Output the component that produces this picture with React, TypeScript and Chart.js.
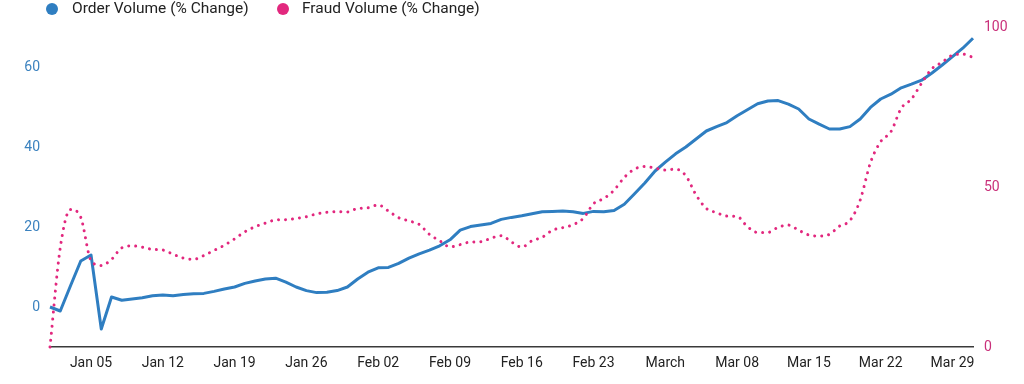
import React, { useEffect, useRef } from "react";
import { Chart, registerables } from "chart.js";

Chart.register(...registerables);

// Daily categories, Jan 01 – Mar 31 (2024)
const monthNames = ["Jan", "Feb", "Mar"];
const monthLengths = [31, 29, 31];
const categories: string[] = [];
monthNames.forEach((m, mi) => {
  for (let d = 1; d <= monthLengths[mi]; d++) {
    categories.push(`${m} ${String(d).padStart(2, "0")}`);
  }
});

// Tick labels shown on the x axis (every 7 days, starting Jan 05)
const xTickLabels = [
  "Jan 05", "Jan 12", "Jan 19", "Jan 26", "Feb 02", "Feb 09", "Feb 16",
  "Feb 23", "March", "Mar 08", "Mar 15", "Mar 22", "Mar 29",
];
const xTickStart = 4;
const xTickStep = 7;

const leftTicks = [0, 20, 40, 60];
const rightTicks = [0, 50, 100];

const orderVolume = [
  0, -1, 5.3, 11.5, 13, -5.5, 2.5, 1.7, 2.0, 2.3,
  2.8, 3.0, 2.8, 3.1, 3.3, 3.4, 3.9, 4.5, 5.0, 5.9,
  6.5, 7.0, 7.2, 6.2, 5.0, 4.1, 3.6, 3.7, 4.1, 5.0,
  7.0, 8.7, 9.8, 9.9, 10.9, 12.2, 13.3, 14.2, 15.3, 16.8,
  19.2, 20.1, 20.5, 20.9, 21.9, 22.4, 22.8, 23.3, 23.8, 23.9,
  24.0, 23.8, 23.4, 23.9, 23.8, 24.1, 25.7, 28.3, 31.0, 34.0,
  36.2, 38.3, 40.0, 42.0, 44.0, 45.1, 46.1, 47.8, 49.3, 50.8,
  51.5, 51.6, 50.7, 49.5, 47.0, 45.7, 44.5, 44.5, 45.1, 47.0,
  49.9, 52.0, 53.2, 54.8, 55.7, 56.7, 58.5, 60.5, 62.6, 64.7,
  67.2,
];

const fraudVolume = [
  0, 31, 43, 40.5, 27, 25.5, 27.4, 31, 31.6, 31.2,
  30.5, 30.3, 29, 27.8, 27.4, 28.6, 30.2, 31.8, 33.8, 36,
  37.6, 38.7, 39.7, 39.8, 40.2, 40.7, 41.6, 42.1, 42.3, 42.2,
  43.3, 43.5, 44.4, 42.5, 40.4, 39.4, 38.3, 35.2, 33.2, 31.3,
  32, 32.8, 32.9, 34, 34.8, 32.8, 31.2, 33.2, 34.3, 36.5,
  37.3, 38.2, 40.2, 44.8, 46.4, 49, 53, 55.6, 56.4, 55.9,
  55.3, 55.6, 53.5, 47.5, 43.3, 42, 40.9, 40.8, 37.6, 35.8,
  35.8, 37.4, 38.1, 36.5, 35, 34.7, 35.2, 37.8, 39.5, 45.9,
  57.6, 64.2, 67.3, 74.6, 77.5, 82.5, 87, 89, 91.2, 91.5,
  90.5,
];

const seriesNames = ["Order Volume (% Change)", "Fraud Volume (% Change)"];
const BLUE = "#2f7ec1";
const BLUE_TICK = "#3b82bf";
const PINK = "#e2287e";
const PINK_TICK = "#c9307a";

const legendPlugin = {
  id: "customLegend",
  afterDraw(chart: any) {
    const ctx = chart.ctx;
    ctx.save();
    ctx.font = "15.5px Roboto";
    ctx.textBaseline = "middle";
    const y = 9;
    const items = [
      { x: 52, color: BLUE, text: seriesNames[0], tx: 72 },
      { x: 283, color: PINK, text: seriesNames[1], tx: 302 },
    ];
    items.forEach((it) => {
      ctx.fillStyle = it.color;
      ctx.beginPath();
      ctx.arc(it.x, y, 6, 0, Math.PI * 2);
      ctx.fill();
      ctx.fillStyle = "#222222";
      ctx.fillText(it.text, it.tx, y + 0.5);
    });
    ctx.restore();
  },
};

export default function App() {
  const ref = useRef<HTMLCanvasElement | null>(null);

  useEffect(() => {
    if (!ref.current) return;
    const chart = new Chart(ref.current, {
      type: "line",
      data: {
        labels: categories,
        datasets: [
          {
            label: seriesNames[0],
            data: orderVolume,
            yAxisID: "y",
            borderColor: BLUE,
            backgroundColor: BLUE,
            borderWidth: 3,
            pointRadius: 0,
            tension: 0,
            order: 2,
            borderJoinStyle: "round",
          },
          {
            label: seriesNames[1],
            data: fraudVolume,
            yAxisID: "y1",
            borderColor: PINK,
            backgroundColor: PINK,
            borderWidth: 3,
            borderDash: [0.01, 7],
            borderCapStyle: "round",
            pointRadius: 0,
            cubicInterpolationMode: "monotone",
            order: 1,
            clip: false as any,
          },
        ],
      },
      plugins: [legendPlugin],
      options: {
        animation: false,
        responsive: true,
        maintainAspectRatio: false,
        layout: { padding: { top: 27, left: 0, right: 0, bottom: 0 } },
        plugins: {
          legend: { display: false },
          tooltip: { enabled: false },
        },
        scales: {
          x: {
            type: "category",
            offset: false,
            grid: { display: false, drawTicks: false },
            border: { display: true, color: "#3a3a3a", width: 1.5 },
            ticks: {
              autoSkip: false,
              maxRotation: 0,
              minRotation: 0,
              padding: 8,
              color: "#222222",
              font: { family: "Roboto", size: 14 },
              callback: (_v: any, i: number) =>
                i >= xTickStart && (i - xTickStart) % xTickStep === 0
                  ? xTickLabels[(i - xTickStart) / xTickStep] ?? ""
                  : "",
            },
            afterFit: (axis: any) => {
              axis.height = 37;
            },
          },
          y: {
            position: "left",
            min: -10,
            max: 70,
            grid: { display: false, drawTicks: false },
            border: { display: false },
            ticks: {
              padding: 10,
              color: BLUE_TICK,
              font: { family: "Roboto", size: 14 },
            },
            afterBuildTicks: (axis: any) => {
              axis.ticks = leftTicks.map((v) => ({ value: v }));
            },
            afterFit: (axis: any) => {
              axis.width = 50;
            },
          },
          y1: {
            position: "right",
            min: 0,
            max: 100,
            grid: { display: false, drawTicks: false },
            border: { display: false },
            ticks: {
              padding: 11,
              color: PINK_TICK,
              font: { family: "Roboto", size: 14 },
            },
            afterBuildTicks: (axis: any) => {
              axis.ticks = rightTicks.map((v) => ({ value: v }));
            },
            afterFit: (axis: any) => {
              axis.width = 51;
            },
          },
        },
      },
    });
    return () => chart.destroy();
  }, []);

  return (
    <div
      style={{
        position: "fixed",
        left: 0,
        top: 0,
        width: 1024,
        height: 384,
        background: "#ffffff",
      }}
    >
      <canvas ref={ref} />
    </div>
  );
}
